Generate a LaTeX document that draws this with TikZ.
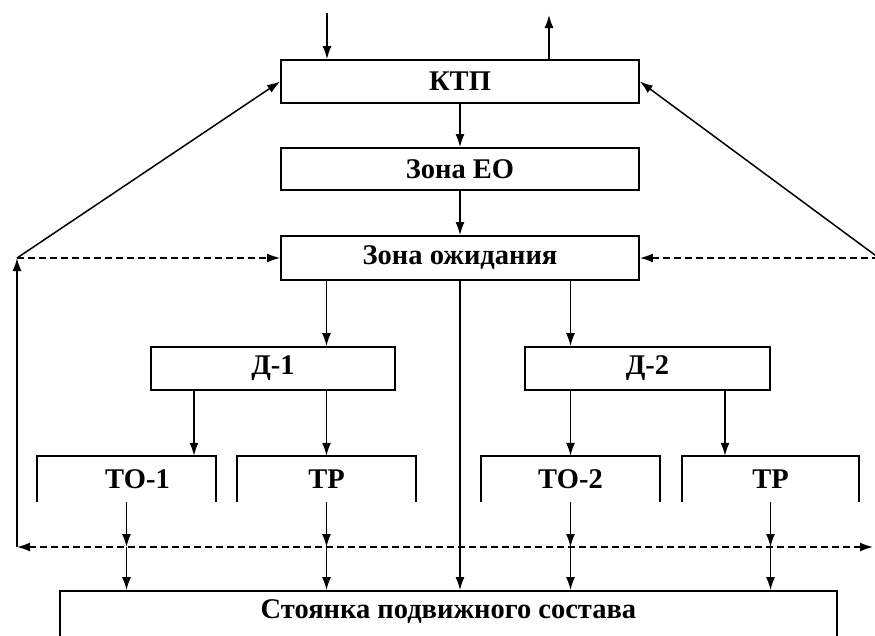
\documentclass[tikz,border=0pt]{standalone}
\usepackage{fontspec}
\setmainfont{Liberation Serif}
\usepackage{tikz}
\usetikzlibrary{arrows.meta}

\tikzset{
    box/.style={draw, line width=1.8pt, fill=white, minimum height=43, inner sep=0pt,
        font=\fontsize{28.5}{33}\selectfont\bfseries},
    openbox/.style={minimum width=179, minimum height=46, inner sep=0pt,
        font=\fontsize{28.5}{33}\selectfont\bfseries},
    arr/.style={line width=1.5pt, -{Latex[length=13pt,width=9pt]}},
    dasharr/.style={arr, dash pattern=on 7pt off 4pt}
}

\begin{document}
\begin{tikzpicture}[x=1pt,y=-1pt]
    \useasboundingbox (0,0) rectangle (875,635);
    % Boxes
    \node[box, minimum width=358] (ktp) at (460,81.5) {КТП};
    \node[box, minimum width=358, minimum height=42] (zeo) at (460,169) {Зона ЕО};
    \node[box, minimum width=358, minimum height=44] (zoz) at (460,258) {Зона ожидания};
    \node[box, minimum width=244] (d1) at (273,368.5) {Д-1};
    \node[box, minimum width=245] (d2) at (647.5,368.5) {Д-2};
    \node[box, minimum width=777, minimum height=50, text depth=14pt] (st) at (448.5,616) {Стоянка подвижного состава};
    % Open boxes
    \node[openbox] (to1) at (126.5,479) {\hspace*{22pt}ТО-1};
    \node[openbox] (tr1) at (326.5,479) {ТР};
    \node[openbox] (to2) at (570.5,479) {ТО-2};
    \node[openbox, minimum width=177] (tr2) at (770.5,479) {ТР};
    \foreach \b in {to1,tr1,to2,tr2}
        \draw[line width=1.8pt] (\b.south west) |- (\b.north east) -- (\b.south east);
    % Free ends and junctions
    \coordinate (in) at (327,13);
    \coordinate (out) at (549,15);
    \coordinate (jl) at (17,258);
    \coordinate (jr) at (879,258);
    \coordinate (bl) at (17,547);
    \coordinate (br) at (873,547);
    \coordinate (a1) at ([xshift=67.5]to1.north);
    \coordinate (a2) at ([xshift=-45.5]tr2.north);
    % Input and output
    \draw[arr] (in) -- (in |- ktp.north);
    \draw[arr] (out |- ktp.north) -- (out);
    % Main chain
    \draw[arr] (ktp) -- (zeo);
    \draw[arr] (zeo) -- (zoz);
    \draw[arr] (zoz.south -| tr1) -- (d1.north -| tr1);
    \draw[arr] (zoz.south -| to2) -- (d2.north -| to2);
    \draw[arr] (zoz.south) -- (zoz.south |- st.north);
    \draw[arr] (d1.south -| a1) -- (a1);
    \draw[arr] (d1.south -| tr1) -- (tr1.north);
    \draw[arr] (d2.south -| to2) -- (to2.north);
    \draw[arr] (d2.south -| a2) -- (a2);
    % To parking
    \foreach \b in {to1,tr1,to2,tr2} {
        \draw[arr] (\b.south) -- (\b.south |- bl);
        \draw[arr] (\b.south |- bl) -- (\b.south |- st.north);
    }
    % Return lines
    \draw[dasharr, {Latex[length=13pt,width=9pt]}-{Latex[length=13pt,width=9pt]}] (bl) -- (br);
    \draw[arr] (bl) -- (jl);
    \draw[dasharr] (jl) -- (zoz.west);
    \draw[dasharr] (jr) -- (zoz.east);
    \draw[arr] (jl) -- (ktp.west);
    \draw[arr] (jr) -- (ktp.east);
\end{tikzpicture}
\end{document}
